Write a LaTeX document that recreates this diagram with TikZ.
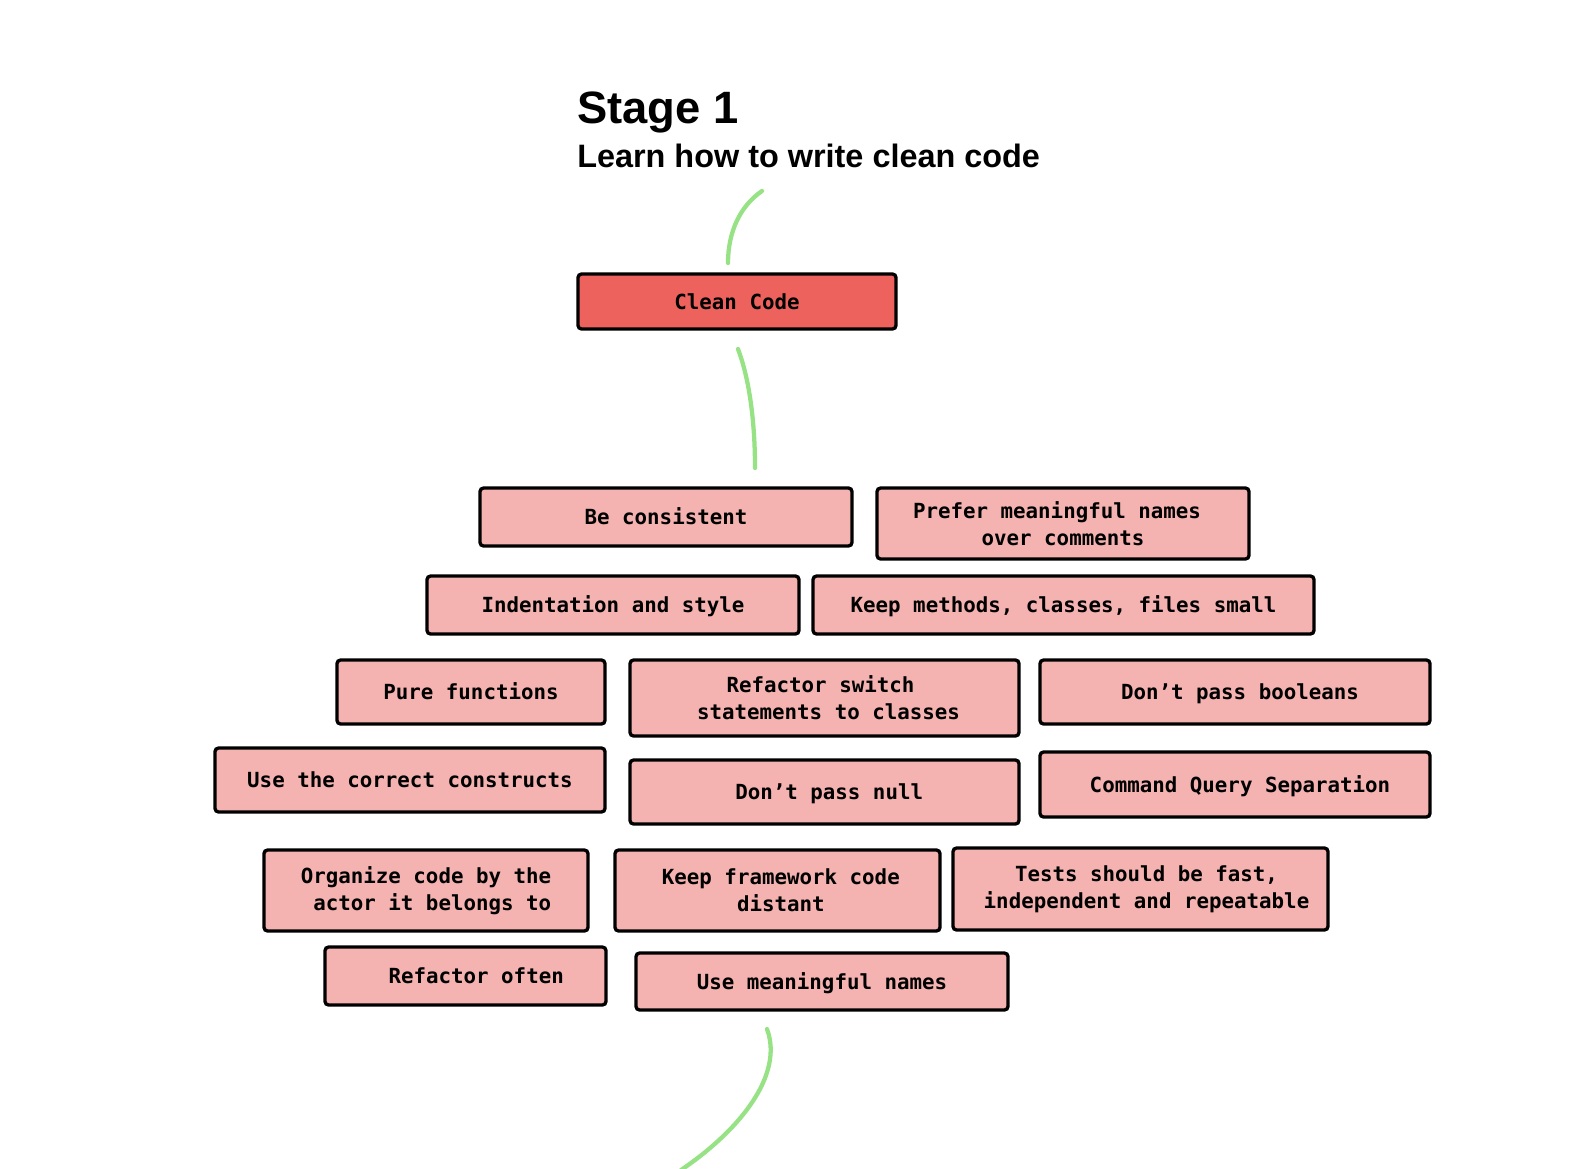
\documentclass[tikz,border=0pt]{standalone}
\usepackage{fontspec}
\setmonofont{DejaVu Sans Mono}
\newfontfamily\titlefont{Liberation Sans}
\definecolor{boxpink}{RGB}{244,178,176}
\definecolor{boxred}{RGB}{238,98,94}
\definecolor{linkgreen}{RGB}{150,226,132}
\tikzset{
  wh/.style 2 args={minimum width=#1*0.75pt-1.6pt, minimum height=#2*0.75pt-1.6pt},
  card/.style={draw=black, line width=2.5pt, rounded corners=2.5pt, fill=boxpink,
    inner sep=0pt, align=center,
    font=\fontsize{15.6pt}{20.5pt}\selectfont\ttfamily\bfseries},
  oneline/.style={text height=11.9pt, text depth=0pt},
  headcard/.style={card, fill=boxred},
  link/.style={draw=linkgreen, line width=3.2pt, line cap=round},
}
\begin{document}
\begin{tikzpicture}[x=0.75pt, y=-0.75pt]
\useasboundingbox (0,0) rectangle (1588,1168);

\node[anchor=base west, inner sep=0pt, font=\titlefont\bfseries\fontsize{34pt}{40pt}\selectfont] (stage) at (577,123) {Stage 1};
\node[anchor=base west, inner sep=0pt, font=\titlefont\bfseries\fontsize{24.3pt}{28pt}\selectfont] (sub) at (577,167) {Learn how to write clean code};

\coordinate (c1a) at (762,191);
\coordinate (c1b) at (728,263);
\path[link] (c1a) .. controls (740,206) and (728,232) .. (c1b);

\node[headcard, oneline, wh={320}{57}] (clean) at (737,301.5) {Clean Code};

\coordinate (c2a) at (738,349);
\coordinate (c2b) at (755,468);
\path[link] (c2a) .. controls (749,378) and (755,420) .. (c2b);

\node[card, oneline, wh={374}{60}] (cons) at (666,517) {Be consistent};
\node[card, wh={374}{73}] (prefer) at (1063,523.5) {Prefer meaningful names\hspace*{9pt}\\over comments};
\node[card, oneline, wh={374}{60}] (indent) at (613,605) {Indentation and style};
\node[card, oneline, wh={503}{60}] (keep) at (1063.5,605) {Keep methods, classes, files small};
\node[card, oneline, wh={270}{66}] (pure) at (471,692) {Pure functions};
\node[card, wh={391}{78}] (switch) at (824.5,698) {Refactor switch\hspace*{6pt}\\\hspace*{6pt}statements to classes};
\node[card, oneline, wh={392}{66}] (bool) at (1235,692) {\hspace*{7.5pt}Don’t pass booleans};
\node[card, oneline, wh={392}{66}] (constr) at (410,780) {Use the correct constructs};
\node[card, oneline, wh={391}{66}] (null) at (824.5,792) {\hspace*{7pt}Don’t pass null};
\node[card, oneline, wh={392}{67}] (cqs) at (1235,784.5) {\hspace*{7.5pt}Command Query Separation};
\node[card, wh={326}{83}] (org) at (426,890.5) {Organize code by the\\\hspace*{9.4pt}actor it belongs to};
\node[card, wh={327}{83}] (fw) at (777.5,890.5) {\hspace*{5pt}Keep framework code\\\hspace*{5pt}distant};
\node[card, wh={377}{84}] (tests) at (1140.5,889) {\hspace*{9pt}Tests should be fast,\\\hspace*{9pt}independent and repeatable};
\node[card, oneline, wh={283}{60}] (often) at (465.5,976) {\hspace*{16pt}Refactor often};
\node[card, oneline, wh={374}{59}] (names) at (822,981.5) {Use meaningful names};

\coordinate (c3a) at (767,1029);
\coordinate (c3b) at (681,1170);
\path[link] (c3a) .. controls (784,1075) and (740,1130) .. (c3b);
\end{tikzpicture}
\end{document}
